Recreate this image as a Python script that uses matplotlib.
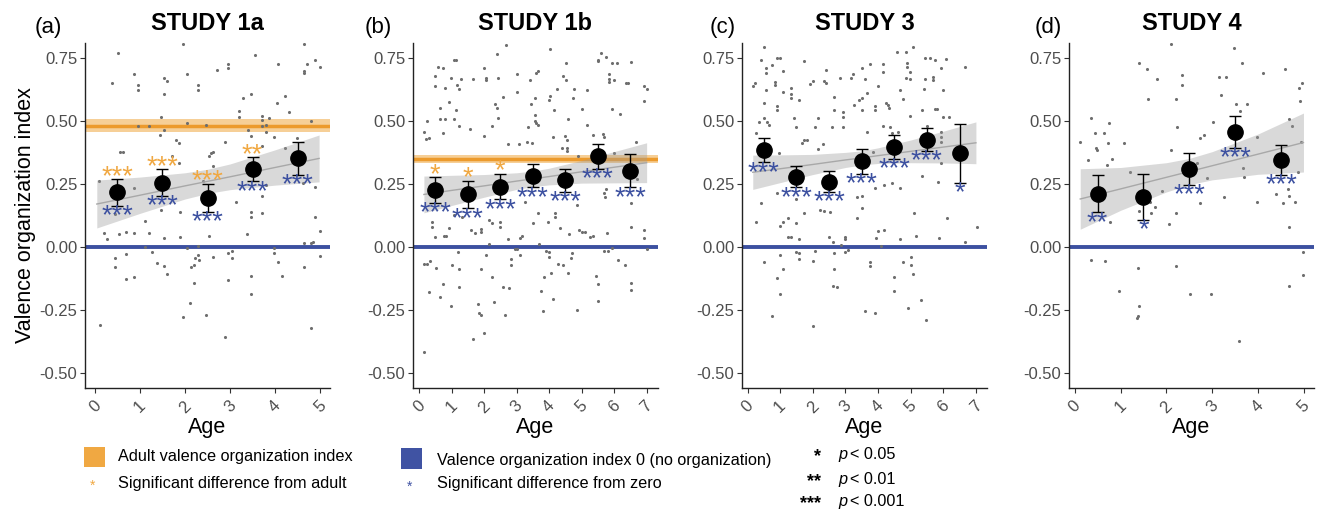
import matplotlib
matplotlib.use('Agg')
import matplotlib.pyplot as plt
from matplotlib.patches import Rectangle
import numpy as np

plt.rcParams['font.family'] = ['Liberation Sans', 'DejaVu Sans']

# --------------------------------
#  data
# --------------------------------
# STUDY 1a
S1A_PTS = [(0.11, -0.31), (0.37, 0.65), (0.52, 0.77), (0.56, 0.376), (0.63, 0.376), (0.87, 0.684),
           (0.95, 0.64), (0.95, 0.623), (0.09, 0.26), (0.19, 0.053), (0.27, 0.029), (0.44, -0.046),
           (0.44, -0.082), (0.53, 0.049), (0.7, 0.059), (0.7, -0.029), (0.7, -0.13), (0.87, 0.053),
           (0.87, -0.122), (0.95, 0.478), (0.87, 0.231), (0.44, 0.128), (1.11, 0.103), (1.21, 0.055),
           (1.12, 0.0), (1.21, 0.478), (1.27, -0.02), (1.37, -0.066), (1.46, 0.515), (1.44, 0.443),
           (1.53, 0.462), (1.53, 0.604), (1.53, 0.67), (1.61, 0.657), (1.46, 0.145), (1.53, 0.033),
           (1.53, -0.077), (1.61, -0.108), (1.72, 0.359), (1.79, 0.425), (1.87, 0.41), (1.87, 0.333),
           (1.89, 0.137), (1.89, 0.037), (1.95, 0.806), (2.05, 0.684), (2.05, 0.491), (1.95, -0.281),
           (2.05, -0.007), (2.11, -0.225), (2.13, -0.082), (2.2, -0.073), (2.21, -0.143), (2.22, -0.046),
           (2.3, 0.641), (2.3, 0.623), (2.3, 0.003), (2.3, -0.033), (2.32, -0.053), (2.46, -0.272),
           (2.47, 0.482), (2.41, 0.26), (2.54, 0.044), (2.54, 0.359), (2.57, 0.37), (2.63, 0.376),
           (2.63, -0.04), (2.63, 0.32), (2.72, 0.7), (2.89, -0.357), (2.89, 0.416), (2.96, 0.723),
           (2.96, 0.71), (2.96, -0.132), (2.96, -0.024), (3.04, -0.016), (3.05, -0.044), (3.13, 0.176),
           (3.21, 0.538), (3.21, 0.515), (3.28, 0.588), (3.37, 0.049), (3.39, 0.462), (3.46, 0.605),
           (3.46, 0.439), (3.47, -0.116), (3.47, -0.189), (3.47, 0.139), (3.47, 0.116), (3.56, 0.76),
           (3.7, 0.519), (3.7, 0.502), (3.72, 0.478), (3.79, 0.482), (3.79, 0.456), (3.72, 0.2),
           (3.72, 0.132), (3.72, 0.399), (3.79, 0.244), (3.87, 0.511), (3.98, 0.436), (3.98, -0.007),
           (3.98, -0.026), (4.05, 0.568), (4.06, 0.723), (4.07, -0.063), (4.15, -0.116), (4.22, 0.597),
           (4.22, 0.39), (4.31, 0.535), (4.48, 0.433), (4.64, 0.806), (4.64, 0.696), (4.64, 0.69),
           (4.63, 0.254), (4.64, 0.013), (4.64, -0.079), (4.72, 0.724), (4.81, 0.5), (4.81, -0.321),
           (4.81, 0.013), (4.89, 0.74), (4.89, 0.238), (4.89, 0.116), (4.99, 0.711), (4.99, 0.062),
           (4.99, -0.037), (4.84, 0.017)]
S1A_MEAN = [0.215, 0.254, 0.193, 0.307, 0.350]
S1A_SE = [0.052, 0.053, 0.055, 0.047, 0.065]
S1A_ADULT_STARS = ['***', '***', '***', '**', '']
S1A_ZERO_STARS = ['***', '***', '***', '***', '***']
S1A_FIT_X = [0.04, 1, 2, 2.5, 3, 4, 4.98]
S1A_FIT_LO = [0.074, 0.132, 0.189, 0.211, 0.226, 0.244, 0.257]
S1A_FIT_HI = [0.264, 0.276, 0.293, 0.307, 0.328, 0.384, 0.443]
S1A_ADULT = (0.48, 0.455, 0.505)

# STUDY 1b
S1B_PTS = [(0.15, -0.42), (0.15, 0.456), (0.26, 0.499), (0.23, 0.429), (0.31, 0.432), (0.15, -0.07),
           (0.26, -0.07), (0.33, -0.059), (0.31, -0.182), (0.41, 0.099), (0.41, 0.079), (0.5, 0.04),
           (0.51, -0.086), (0.5, 0.676), (0.5, 0.637), (0.59, 0.713), (0.74, 0.709), (0.64, 0.552),
           (0.64, 0.505), (0.74, 0.449), (0.81, 0.631), (0.81, 0.506), (0.74, -0.148), (0.64, -0.201),
           (0.77, 0.044), (0.84, 0.042), (0.91, 0.073), (0.91, 0.575), (0.98, 0.671), (0.98, -0.235),
           (1.0, -0.073), (1.07, 0.742), (1.15, 0.742), (1.08, 0.505), (1.15, 0.544), (1.17, 0.641),
           (1.22, 0.624), (1.23, 0.478), (1.2, -0.02), (1.23, -0.09), (1.23, -0.159), (1.07, 0.125),
           (1.3, 0.667), (1.32, 0.119), (1.58, 0.465), (1.59, 0.066), (1.66, 0.667), (1.66, -0.367),
           (1.73, 0.053), (1.82, -0.227), (1.84, -0.264), (1.92, 0.059), (1.92, 0.069), (1.92, -0.09),
           (1.92, -0.271), (1.99, -0.341), (1.99, 0.439), (1.99, 0.707), (2.07, 0.671), (2.07, 0.661),
           (2.07, -0.033), (2.16, 0.106), (2.16, 0.009), (2.26, 0.095), (2.26, 0.478), (2.25, -0.119),
           (2.31, -0.218), (2.35, 0.565), (2.4, 0.552), (2.41, 0.766), (2.43, 0.671), (2.43, 0.509),
           (2.48, 0.099), (2.48, 0.079), (2.57, 0.592), (2.59, -0.159), (2.64, -0.271), (2.66, 0.802),
           (2.74, 0.029), (2.74, 0.406), (2.76, -0.165), (2.84, -0.05), (2.84, -0.073), (2.95, -0.011),
           (3.02, -0.011), (3.0, 0.612), (3.0, 0.684), (3.08, 0.406), (3.1, -0.033), (3.1, 0.033),
           (3.17, 0.042), (3.25, 0.178), (3.33, 0.416), (3.34, 0.476), (3.41, 0.663), (3.44, 0.565),
           (3.46, 0.41), (3.51, 0.095), (3.58, 0.499), (3.58, 0.588), (3.58, 0.522), (3.61, 0.489),
           (3.61, 0.69), (3.65, 0.481), (3.65, 0.698), (3.67, 0.132), (3.68, 0.011), (3.75, -0.178),
           (3.82, -0.254), (3.84, -0.119), (3.9, -0.017), (3.97, 0.099), (3.99, 0.581), (3.99, -0.04),
           (3.99, -0.02), (4.02, 0.786), (4.02, 0.598), (4.05, -0.106), (4.11, -0.209), (4.13, 0.436),
           (4.15, 0.544), (4.18, 0.119), (4.18, 0.132), (4.23, 0.624), (4.26, -0.07), (4.33, 0.073),
           (4.4, 0.392), (4.44, 0.676), (4.44, -0.073), (4.49, 0.439), (4.51, 0.73), (4.51, 0.663),
           (4.54, 0.423), (4.54, 0.38), (4.54, 0.39), (4.59, 0.505), (4.59, -0.103), (4.62, 0.049),
           (4.66, -0.046), (4.71, -0.026), (4.74, 0.588), (4.77, 0.627), (4.85, -0.251), (4.85, 0.165),
           (4.9, 0.359), (4.93, 0.066), (5.0, 0.059), (5.0, 0.546), (5.1, 0.059), (5.17, 0.621),
           (5.17, 0.482), (5.26, 0.04), (5.34, 0.044), (5.36, 0.443), (5.43, -0.116), (5.5, -0.149),
           (5.52, 0.74), (5.52, 0.736), (5.52, 0.346), (5.52, -0.214), (5.59, 0.769), (5.65, 0.445),
           (5.7, 0.436), (5.7, 0.214), (5.7, -0.016), (5.75, 0.753), (5.75, 0.227), (5.8, -0.016),
           (5.85, 0.684), (5.85, 0.667), (5.85, 0.654), (5.92, -0.007), (5.94, 0.729), (5.95, 0.546),
           (6.0, 0.661), (6.0, 0.373), (6.1, 0.729), (6.13, -0.053), (6.18, 0.526), (6.33, -0.073),
           (6.37, 0.65), (6.42, 0.65), (6.52, 0.733), (6.52, 0.174), (6.52, 0.079), (6.52, -0.143),
           (6.52, -0.172), (6.67, 0.416), (6.69, 0.267), (6.93, 0.637), (6.93, 0.577), (7.0, 0.624),
           (6.93, 0.066), (6.93, 0.036), (7.0, -0.011), (5.72, 0.198), (5.79, 0.053)]
S1B_MEAN = [0.225, 0.207, 0.238, 0.281, 0.263, 0.359, 0.301]
S1B_SE = [0.050, 0.055, 0.050, 0.045, 0.045, 0.049, 0.065]
S1B_ADULT_STARS = ['*', '*', '*', '', '', '', '']
S1B_ZERO_STARS = ['***', '***', '***', '***', '***', '***', '***']
S1B_FIT_X = [0.15, 1, 2, 3, 3.5, 4, 5, 6, 7]
S1B_FIT_LO = [0.134, 0.163, 0.196, 0.227, 0.238, 0.245, 0.252, 0.253, 0.254]
S1B_FIT_HI = [0.280, 0.283, 0.286, 0.293, 0.300, 0.311, 0.342, 0.377, 0.412]
S1B_ADULT = (0.347, 0.330, 0.364)

# STUDY 3
S3_PTS = [(0.16, 0.637), (0.24, 0.65), (0.34, 0.495), (0.26, 0.449), (0.27, 0.099), (0.41, 0.742),
          (0.41, 0.174), (0.49, 0.793), (0.49, 0.509), (0.49, 0.568), (0.49, -0.063), (0.57, 0.707),
          (0.57, 0.69), (0.57, 0.621), (0.59, 0.495), (0.65, 0.482), (0.75, 0.72), (0.75, -0.275),
          (0.83, 0.654), (0.83, 0.643), (0.9, 0.75), (0.98, 0.75), (0.9, 0.557), (0.9, 0.542),
          (0.9, 0.214), (0.9, -0.125), (0.97, 0.37), (0.98, 0.082), (0.98, -0.033), (0.98, -0.188),
          (1.08, 0.696), (1.08, 0.614), (1.08, 0.099), (1.08, -0.09), (1.24, 0.112), (1.24, 0.04),
          (1.34, 0.04), (1.33, 0.631), (1.33, 0.605), (1.33, 0.588), (1.43, 0.511), (1.49, 0.476),
          (1.49, 0.188), (1.49, 0.095), (1.5, -0.022), (1.59, 0.029), (1.57, 0.581), (1.59, -0.026),
          (1.59, -0.05), (1.67, 0.41), (1.74, 0.737), (1.74, 0.423), (1.74, 0.132), (1.82, 0.423),
          (1.91, 0.647), (2.0, 0.658), (2.0, -0.059), (2.0, -0.314), (2.08, 0.476), (2.08, -0.017),
          (2.15, 0.509), (2.15, 0.387), (2.23, 0.145), (2.33, 0.143), (2.32, 0.407), (2.34, 0.658),
          (2.42, 0.7), (2.42, 0.65), (2.49, 0.04), (2.52, 0.139), (2.59, 0.476), (2.61, 0.02),
          (2.61, -0.156), (2.66, 0.594), (2.66, 0.542), (2.66, -0.024), (2.66, -0.09), (2.75, -0.161),
          (2.83, 0.67), (2.85, 0.007), (2.92, 0.535), (2.92, 0.513), (2.92, 0.476), (2.98, 0.04),
          (3.0, 0.03), (3.0, -0.022), (3.08, -0.013), (3.18, 0.671), (3.23, 0.684), (3.26, 0.561),
          (3.34, 0.112), (3.34, 0.198), (3.41, 0.581), (3.5, 0.707), (3.5, 0.588), (3.5, 0.542),
          (3.5, 0.152), (3.5, 0.201), (3.59, -0.254), (3.59, 0.667), (3.67, 0.608), (3.67, 0.456),
          (3.75, 0.723), (3.75, -0.063), (3.75, -0.077), (3.84, 0.376), (3.91, 0.557), (3.91, 0.544),
          (3.91, -0.264), (3.91, 0.231), (3.93, 0.033), (4.0, 0.637), (4.0, 0.062), (4.08, 0.003),
          (4.16, 0.723), (4.16, 0.693), (4.16, 0.478), (4.18, 0.066), (4.18, 0.244), (4.25, 0.571),
          (4.3, 0.561), (4.33, 0.552), (4.36, 0.476), (4.42, 0.254), (4.42, 0.452), (4.49, -0.122),
          (4.49, -0.178), (4.59, 0.773), (4.61, 0.456), (4.66, 0.621), (4.66, 0.234), (4.66, 0.029),
          (4.77, 0.584), (4.77, -0.063), (4.85, 0.773), (4.85, 0.67), (4.9, 0.727), (4.9, 0.713),
          (4.92, -0.244), (4.97, 0.693), (4.99, 0.667), (4.99, 0.518), (5.02, -0.04), (5.02, -0.073),
          (5.07, 0.793), (5.08, -0.108), (5.1, 0.132), (5.15, 0.042), (5.32, -0.211), (5.34, 0.544),
          (5.34, 0.281), (5.41, 0.624), (5.43, 0.75), (5.44, 0.664), (5.48, -0.291), (5.49, 0.478),
          (5.6, 0.75), (5.67, 0.674), (5.67, 0.661), (5.75, 0.74), (5.75, 0.548), (5.82, 0.548),
          (5.86, 0.036), (5.84, 0.258), (5.92, 0.456), (5.92, 0.436), (5.92, 0.416), (5.92, 0.33),
          (5.94, 0.707), (6.0, 0.621), (6.0, 0.513), (6.08, 0.746), (6.1, 0.112), (6.18, 0.513),
          (6.67, 0.713), (6.67, 0.02), (7.02, 0.077)]
S3_MEAN = [0.383, 0.277, 0.258, 0.338, 0.395, 0.425, 0.370]
S3_SE = [0.049, 0.041, 0.041, 0.049, 0.046, 0.044, 0.116]
S3_ZERO_STARS = ['***', '***', '***', '***', '***', '***', '*']
S3_FIT_X = [0.16, 1, 2, 3, 3.5, 4, 5, 6, 7]
S3_FIT_LO = [0.227, 0.254, 0.286, 0.314, 0.324, 0.330, 0.333, 0.332, 0.329]
S3_FIT_HI = [0.363, 0.364, 0.366, 0.374, 0.380, 0.392, 0.423, 0.458, 0.495]

# STUDY 4
S4_PTS = [(0.12, 0.416), (0.28, 0.343), (0.36, 0.509), (0.36, -0.055), (0.44, 0.449), (0.47, 0.392),
          (0.49, 0.383), (0.64, 0.449), (0.66, -0.059), (0.71, 0.324), (0.73, 0.412), (0.74, 0.491),
          (0.76, 0.099), (0.82, 0.346), (0.96, -0.176), (1.07, 0.41), (1.2, 0.297), (1.39, -0.086),
          (1.4, 0.727), (1.4, 0.143), (1.4, -0.235), (1.35, -0.284), (1.38, -0.275), (1.58, 0.703),
          (1.6, 0.584), (1.64, 0.178), (1.66, 0.132), (1.76, 0.159), (1.8, 0.666), (1.91, 0.222),
          (2.05, 0.089), (2.11, 0.806), (2.11, 0.383), (2.21, 0.585), (2.21, 0.132), (2.21, -0.077),
          (2.23, 0.476), (2.35, 0.68), (2.35, 0.641), (2.51, -0.189), (2.66, 0.33), (2.73, 0.433),
          (2.74, 0.172), (2.82, 0.443), (2.89, 0.271), (2.97, -0.189), (3.01, 0.493), (3.15, 0.674),
          (3.19, 0.601), (3.26, 0.198), (3.31, 0.674), (3.47, 0.79), (3.52, 0.565), (3.58, -0.376),
          (3.6, 0.538), (3.65, 0.727), (3.68, 0.313), (3.69, 0.277), (3.76, 0.565), (3.97, 0.178),
          (3.97, 0.436), (4.1, 0.687), (4.39, 0.207), (4.59, 0.703), (4.55, 0.172), (4.66, 0.227),
          (4.68, 0.506), (4.68, 0.201), (4.68, 0.079), (4.68, -0.156), (4.73, 0.478), (4.8, 0.176),
          (4.9, 0.631), (4.91, 0.579), (4.93, 0.416), (4.95, 0.65), (4.99, -0.022), (4.97, -0.112),
          (4.88, 0.297)]
S4_MEAN = [0.210, 0.198, 0.308, 0.456, 0.345]
S4_SE = [0.074, 0.091, 0.062, 0.064, 0.059]
S4_ZERO_STARS = ['**', '*', '***', '***', '***']
S4_FIT_X = [0.12, 1, 2, 2.5, 3, 4, 4.99]
S4_FIT_LO = [0.069, 0.144, 0.217, 0.246, 0.265, 0.287, 0.296]
S4_FIT_HI = [0.309, 0.314, 0.333, 0.350, 0.377, 0.447, 0.530]

TITLES = ['STUDY 1a', 'STUDY 1b', 'STUDY 3', 'STUDY 4']
TAGS = ['(a)', '(b)', '(c)', '(d)']
Y_TICKS = [-0.50, -0.25, 0.00, 0.25, 0.50, 0.75]

ORANGE = '#F0A842'
ORANGE_DARK = '#EC9A2C'
BLUE = '#3C50A0'
GREY_TXT = '#4D4D4D'

W, H = 1327, 513


def fx(px):
    return px / W


def fy(py):
    return 1 - py / H


def draw_panel(ax, pts, mean, se, fit_x, fit_lo, fit_hi, zero_stars,
               adult=None, adult_stars=None, xmax=5, xlim=(-0.2, 5.2)):
    px, py = zip(*pts)
    mx = np.arange(len(mean)) + 0.5
    mean = np.array(mean)
    se = np.array(se)

    ax.axhline(0, color=BLUE, lw=2.8, zorder=1)
    if adult is not None:
        ax.axhspan(adult[1], adult[2], color=ORANGE, alpha=0.55, lw=0, zorder=1)
        ax.axhline(adult[0], color=ORANGE_DARK, lw=2.5, zorder=1)

    ax.scatter(px, py, s=5, color='#6E6E6E', lw=0, zorder=2)

    lo = np.array(fit_lo)
    hi = np.array(fit_hi)
    ax.fill_between(fit_x, lo, hi, color='#9C9C9C', alpha=0.38, lw=0, zorder=3)
    ax.plot(fit_x, (lo + hi) / 2, color='#A8A8A8', lw=1.0, zorder=3)

    ax.errorbar(mx, mean, yerr=se, fmt='none', ecolor='black', elinewidth=1.0,
                capsize=4.5, capthick=1.0, zorder=4)
    ax.plot(mx, mean, 'o', color='black', ms=11, zorder=5)

    # 星印: ベースラインからグリフ中心までのずれを補正
    star_fs = 19.5
    for x, m, s, st in zip(mx, mean, se, zero_stars):
        if st:
            ax.text(x, m - s - 0.070, st, color=BLUE, fontsize=star_fs,
                    ha='center', va='baseline', zorder=6)
    if adult_stars is not None:
        for x, m, s, st in zip(mx, mean, se, adult_stars):
            if st:
                ax.text(x, m + s - 0.018, st, color=ORANGE, fontsize=star_fs,
                        ha='center', va='baseline', zorder=6)

    ax.set_xlim(*xlim)
    ax.set_ylim(-0.561, 0.808)
    ax.set_xticks(range(xmax + 1))
    ax.set_xticklabels([str(i) for i in range(xmax + 1)], rotation=45,
                       ha='center', va='top', fontsize=12, color=GREY_TXT)
    ax.set_yticks(Y_TICKS)
    ax.set_yticklabels(['%.2f' % v for v in Y_TICKS], fontsize=12, color=GREY_TXT)
    ax.tick_params(axis='both', length=3.5, width=0.8, color='#333333', pad=2)
    ax.tick_params(axis='x', pad=4)
    for side in ['top', 'right']:
        ax.spines[side].set_visible(False)
    for side in ['left', 'bottom']:
        ax.spines[side].set_linewidth(1.0)
        ax.spines[side].set_color('#222222')


fig = plt.figure(figsize=(W / 100, H / 100), dpi=100)

ax_left = [85, 413, 742, 1069]
ax_w = 245
ax_top, ax_bot = 43, 388
axes = []
for x0 in ax_left:
    axes.append(fig.add_axes([fx(x0), fy(ax_bot), ax_w / W, (ax_bot - ax_top) / H]))

draw_panel(axes[0], S1A_PTS, S1A_MEAN, S1A_SE, S1A_FIT_X, S1A_FIT_LO, S1A_FIT_HI,
           S1A_ZERO_STARS, S1A_ADULT, S1A_ADULT_STARS, 5, (-0.222, 5.222))
draw_panel(axes[1], S1B_PTS, S1B_MEAN, S1B_SE, S1B_FIT_X, S1B_FIT_LO, S1B_FIT_HI,
           S1B_ZERO_STARS, S1B_ADULT, S1B_ADULT_STARS, 7, (-0.185, 7.35))
draw_panel(axes[2], S3_PTS, S3_MEAN, S3_SE, S3_FIT_X, S3_FIT_LO, S3_FIT_HI,
           S3_ZERO_STARS, None, None, 7, (-0.17, 7.34))
draw_panel(axes[3], S4_PTS, S4_MEAN, S4_SE, S4_FIT_X, S4_FIT_LO, S4_FIT_HI,
           S4_ZERO_STARS, None, None, 5, (-0.125, 5.22))

tag_x = [48, 378, 723, 1048]
for x0, tag_px, title, tag in zip(ax_left, tag_x, TITLES, TAGS):
    fig.text(fx(x0 + ax_w / 2), fy(30), title, fontsize=17, fontweight='bold',
             ha='center', va='baseline')
    fig.text(fx(tag_px), fy(33), tag, fontsize=16, ha='center', va='baseline')
    fig.text(fx(x0 + ax_w / 2), fy(433), 'Age', fontsize=15.5, ha='center', va='baseline')

fig.text(fx(25), fy(215), 'Valence organization index', fontsize=15.5,
         rotation=90, ha='center', va='center')

# --------------------------------
#  legend (drawn by hand)
# --------------------------------
fig.add_artist(Rectangle((fx(84), fy(467)), 21 / W, 20 / H, transform=fig.transFigure,
                         facecolor=ORANGE, edgecolor='none'))
fig.text(fx(118), fy(461), 'Adult valence organization index', fontsize=11.7, va='baseline')
fig.text(fx(93), fy(490), '*', fontsize=10, color=ORANGE, ha='center', va='baseline')
fig.text(fx(118), fy(488), 'Significant difference from adult', fontsize=11.7, va='baseline')

fig.add_artist(Rectangle((fx(401), fy(469)), 21 / W, 21 / H, transform=fig.transFigure,
                         facecolor='#4053A3', edgecolor='none'))
fig.text(fx(437), fy(465), 'Valence organization index 0 (no organization)', fontsize=11.7,
         va='baseline')
fig.text(fx(410), fy(491), '*', fontsize=10, color='#4053A3', ha='center', va='baseline')
fig.text(fx(437), fy(488), 'Significant difference from zero', fontsize=11.7, va='baseline')

P_STARS = ['*', '**', '***']
P_TEXT = ['< 0.05', '< 0.01', '< 0.001']
P_ROWS = [453, 478, 500]
for st, pt, row in zip(P_STARS, P_TEXT, P_ROWS):
    fig.text(fx(821), fy(row + 8), st, fontsize=13, fontweight='bold', ha='right', va='baseline')
    fig.text(fx(838), fy(row + 6), 'p', fontsize=11.7, fontstyle='italic', va='baseline')
    fig.text(fx(850), fy(row + 6), pt, fontsize=11.7, va='baseline')

fig.savefig('out.png', dpi=100)
